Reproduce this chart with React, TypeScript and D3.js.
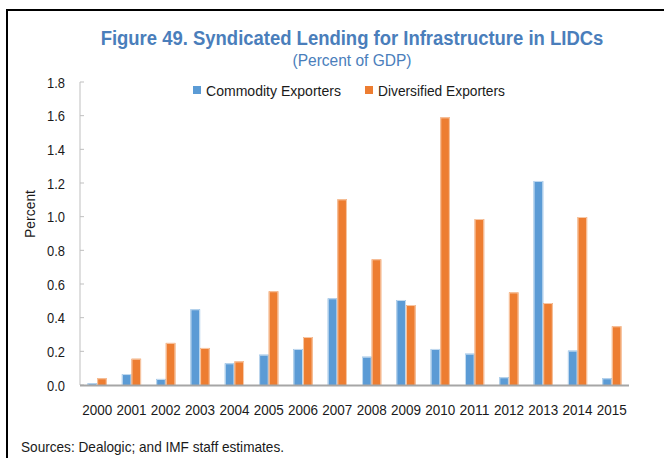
import React from "react";
import * as d3 from "d3";

const years = ["2000","2001","2002","2003","2004","2005","2006","2007","2008","2009","2010","2011","2012","2013","2014","2015"];
const commodity = [0.01,0.065,0.036,0.45,0.129,0.18,0.214,0.515,0.168,0.505,0.214,0.186,0.046,1.212,0.204,0.04];
const diversified = [0.04,0.156,0.25,0.22,0.14,0.557,0.285,1.103,0.747,0.475,1.59,0.986,0.55,0.487,0.998,0.349];
const yTicks = [0,0.2,0.4,0.6,0.8,1.0,1.2,1.4,1.6,1.8];
const seriesNames = ["Commodity Exporters","Diversified Exporters"];
const titleText = "Figure 49. Syndicated Lending for Infrastructure in LIDCs";

const W = 664, H = 458;
const FONT = "'Liberation Sans Narrow','Liberation Sans',Arial,sans-serif";
const BLUE = "#5B9BD5", ORANGE = "#ED7D31";
const BLUE_EDGE = "#C5DCF0", ORANGE_EDGE = "#F7C9A8";
const TITLE_BLUE = "#4A7EBB";
const TEXT = "#1a1a1a";

function measure(text: string, font: string): number {
  try {
    const ctx = document.createElement("canvas").getContext("2d");
    if (!ctx) return 0;
    ctx.font = font;
    return ctx.measureText(text).width;
  } catch (e) {
    return 0;
  }
}

export default function App() {
  const x0 = d3.scaleBand().domain(years).range([80, 629]).padding(0);
  const y = d3.scaleLinear().domain([0, 1.8]).range([385, 82]);
  const bw = x0.bandwidth();
  const barW = bw * 0.28;
  const series = [
    { name: seriesNames[0], values: commodity, fill: BLUE, edge: BLUE_EDGE },
    { name: seriesNames[1], values: diversified, fill: ORANGE, edge: ORANGE_EDGE },
  ];
  const tw = measure(titleText, `bold 21px ${FONT}`);
  const titleScale = tw > 0 ? Math.min(1, 503 / tw) : 0.8;
  return (
    <div style={{ position: "absolute", left: 0, top: 0 }}>
      <svg width={W} height={H} style={{ display: "block", background: "#fff" }}>
        {/* frame */}
        <line x1={7} x2={664} y1={10} y2={10} stroke="#000" strokeWidth={2} />
        <line x1={7} x2={7} y1={9} y2={458} stroke="#000" strokeWidth={2} />
        {/* title */}
        <g transform={`translate(352,45) scale(${titleScale},1)`}>
          <text x={0} y={0} textAnchor="middle" fontFamily={FONT} fontWeight="bold" fontSize={21} fill={TITLE_BLUE}>{titleText}</text>
        </g>
        <text x={352} y={66} textAnchor="middle" fontFamily={FONT} fontSize={16} fill={TITLE_BLUE} textLength={119} lengthAdjust="spacingAndGlyphs">(Percent of GDP)</text>
        {/* legend */}
        <rect x={193} y={86} width={8} height={8} fill={BLUE} />
        <text x={206} y={96} fontFamily={FONT} fontSize={15} fill={TEXT} textLength={135} lengthAdjust="spacingAndGlyphs">{seriesNames[0]}</text>
        <rect x={365} y={86} width={8} height={8} fill={ORANGE} />
        <text x={378} y={96} fontFamily={FONT} fontSize={15} fill={TEXT} textLength={127} lengthAdjust="spacingAndGlyphs">{seriesNames[1]}</text>
        {/* y axis */}
        <line x1={80} x2={80} y1={y(1.8)} y2={385} stroke="#BFBFBF" strokeWidth={1} />
        {yTicks.map((t) => (
          <g key={t}>
            <line x1={80} x2={84} y1={y(t)} y2={y(t)} stroke="#BFBFBF" strokeWidth={1} />
            <text x={65} y={y(t) + 5.5} textAnchor="end" fontFamily={FONT} fontSize={15} fill={TEXT} textLength={18} lengthAdjust="spacingAndGlyphs">{t.toFixed(1)}</text>
          </g>
        ))}
        <text transform={`translate(35,214) rotate(-90)`} textAnchor="middle" fontFamily={FONT} fontSize={15} fill={TEXT} textLength={48} lengthAdjust="spacingAndGlyphs">Percent</text>
        {/* bars */}
        {years.map((yr, i) => (
          <g key={yr}>
            {series.map((s, j) => {
              const cx = (x0(yr) as number) + bw / 2;
              const bx = cx - barW + j * barW;
              const top = y(s.values[i]);
              const h = 385 - top;
              return (
                <g key={s.name}>
                  <rect x={bx} y={top} width={barW} height={h} fill={s.fill} />
                  <path d={`M${bx + 0.5},385 V${top + 0.5} H${bx + barW - 0.5} V385`} fill="none" stroke={s.edge} strokeWidth={1} />
                </g>
              );
            })}
          </g>
        ))}
        {/* x axis */}
        <line x1={80} x2={629} y1={385.5} y2={385.5} stroke="#A6A6A6" strokeWidth={2} />
        {years.map((yr) => (
          <text key={yr} x={(x0(yr) as number) + bw / 2} y={415} textAnchor="middle" fontFamily={FONT} fontSize={15} fill={TEXT} textLength={30} lengthAdjust="spacingAndGlyphs">{yr}</text>
        ))}
        {/* source */}
        <text x={21} y={452} fontFamily={FONT} fontSize={15} fill={TEXT} textLength={263} lengthAdjust="spacingAndGlyphs">Sources: Dealogic; and IMF staff estimates.</text>
      </svg>
    </div>
  );
}
